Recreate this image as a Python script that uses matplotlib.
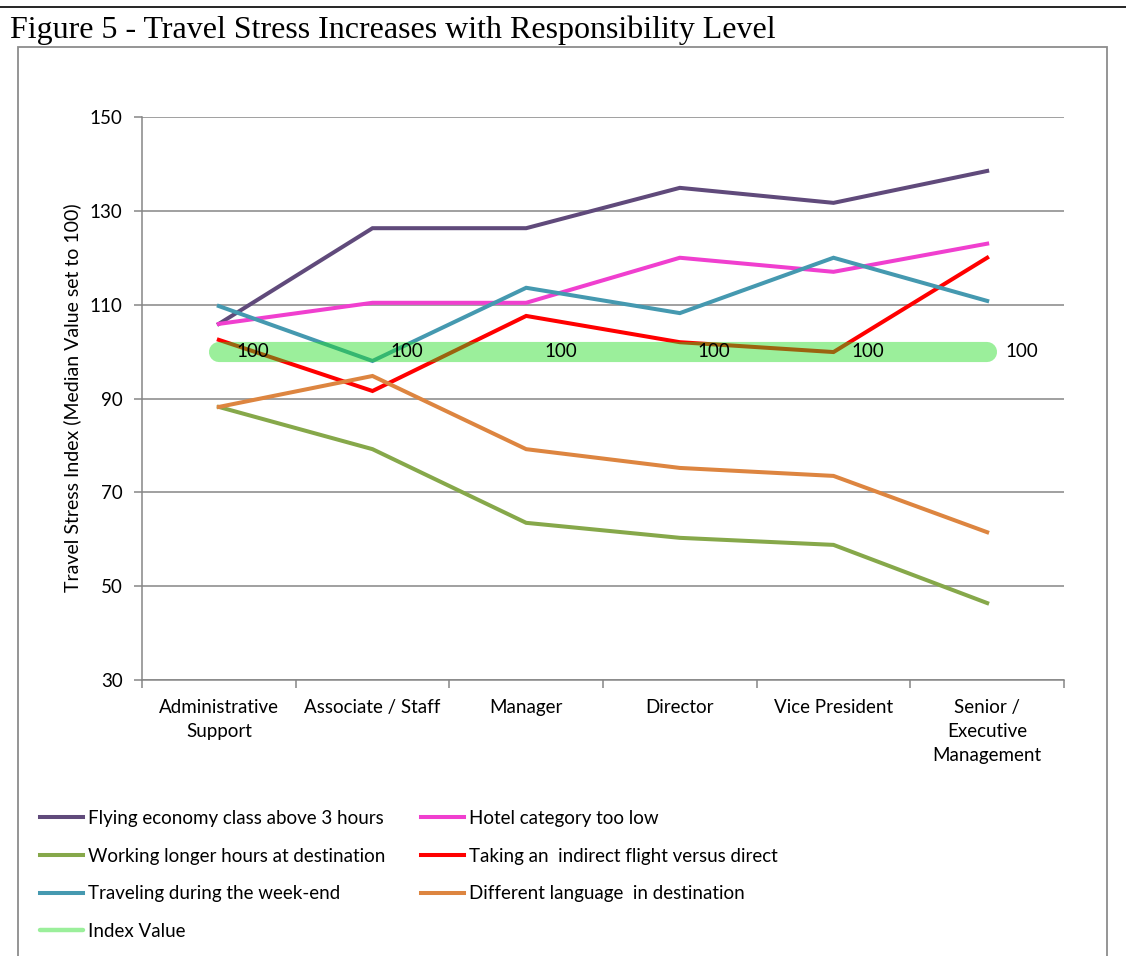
import matplotlib
matplotlib.use("Agg")
import matplotlib.pyplot as plt
from matplotlib.patches import Rectangle
from matplotlib.lines import Line2D

plt.rcParams['font.family'] = ['Lato', 'DejaVu Sans']

# categories (x axis)
levels = ["Administrative\nSupport", "Associate / Staff", "Manager",
          "Director", "Vice President", "Senior /\nExecutive\nManagement"]

# series values
flying_economy = [105.9, 126.3, 126.3, 134.9, 131.7, 138.5]
hotel_low = [105.9, 110.4, 110.4, 120.0, 117.0, 123.0]
working_longer = [88.2, 79.2, 63.5, 60.3, 58.8, 46.4]
indirect_flight = [102.5, 91.6, 107.6, 102.0, 99.9, 120.0]
week_end = [109.7, 98.0, 113.6, 108.2, 120.0, 110.8]
language = [88.2, 94.8, 79.2, 75.2, 73.5, 61.5]
index_value = [100, 100, 100, 100, 100, 100]

names = ["Flying economy class above 3 hours", "Hotel category too low",
         "Working longer hours at destination", "Taking an  indirect flight versus direct",
         "Traveling during the week-end", "Different language  in destination"]
series = [flying_economy, hotel_low, working_longer, indirect_flight, week_end, language]
colors = ["#604A7B", "#F03FCF", "#86A84A", "#FF0000", "#4599B0", "#DD8540"]

FS = 13.5

fig = plt.figure(figsize=(11.26, 9.56), dpi=100)

# page line and chart frame
fig.add_artist(Line2D([0, 1], [1 - 7/956, 1 - 7/956], color="black", lw=1.2,
                      transform=fig.transFigure))
fig.add_artist(Rectangle((18/1126, -0.05), (1107-18)/1126, 1.05 - 47/956,
                         transform=fig.transFigure, fill=False,
                         edgecolor="#8c8c8c", lw=1.3))
fig.text(10/1126, 1 - 30/956, "Figure 5 - Travel Stress Increases with Responsibility Level",
         family="Liberation Serif", fontsize=23, ha="left", va="center")

ax = fig.add_axes([142/1126, 1 - 680/956, (1064-142)/1126, (680-117)/956])

x = list(range(len(levels)))
lines = {}
for name, vals, c in zip(names, series, colors):
    lines[name], = ax.plot(x, vals, color=c, lw=2.9, solid_joinstyle="miter", zorder=3)

ax.plot(x, index_value, color="#22DD22", alpha=0.45, lw=14.5,
        solid_capstyle="round", zorder=4)
idx_handle = Line2D([], [], color="#22DD22", alpha=0.45, lw=3.2, solid_capstyle="round")
for xi, v in zip(x, index_value):
    ax.annotate(str(v), (xi, v), xytext=(13, 0), textcoords="offset points",
                ha="left", va="center", fontsize=FS, zorder=5)

ax.set_xlim(-0.5, 5.5)
ax.set_ylim(30, 150)
ax.set_yticks([30, 50, 70, 90, 110, 130, 150])
ax.set_xticks([i - 0.5 for i in range(7)])
ax.set_xticklabels([])
ax.set_xticks(x, minor=True)
ax.set_xticklabels(levels, minor=True, fontsize=FS, linespacing=1.5)
ax.tick_params(axis="x", which="major", length=6, color="#868686", width=1.1)
ax.tick_params(axis="x", which="minor", length=0, pad=14)
ax.tick_params(axis="y", length=6, color="#868686", width=1.1, labelsize=FS, pad=8)
ax.grid(axis="y", color="#868686", lw=1.1)
ax.set_axisbelow(True)
for s in ["top", "right"]:
    ax.spines[s].set_visible(False)
for s in ["left", "bottom"]:
    ax.spines[s].set_color("#868686")
    ax.spines[s].set_linewidth(1.1)

fig.text(72/1126, 1 - 398/956, "Travel Stress Index (Median Value set to 100)",
         rotation=90, ha="center", va="center", fontsize=14)

order = [names[0], names[2], names[4], None, names[1], names[3], names[5]]
handles = [lines[n] if n else idx_handle for n in order]
labels = [n if n else "Index Value" for n in order]
fig.legend(handles, labels, ncol=2, loc="upper left",
           bbox_to_anchor=(40/1126, 1 - 810/956), frameon=False, fontsize=FS,
           handlelength=2.3, handletextpad=0.25, columnspacing=1.9,
           labelspacing=1.1, borderpad=0, borderaxespad=0)

fig.savefig("out.png", dpi=100)
